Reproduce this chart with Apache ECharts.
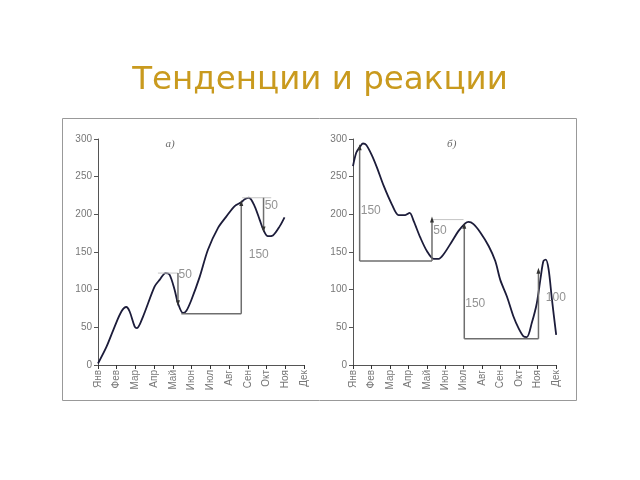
<!DOCTYPE html>
<html><head><meta charset="utf-8">
<script src="https://cdn.jsdelivr.net/npm/echarts@6/dist/echarts.min.js"></script>
<style>html,body{margin:0;padding:0;background:#fff}#c{width:640px;height:480px}</style>
</head><body><div id="c"></div>
<script>
const months = ['Янв','Фев','Мар','Апр','Май','Июн','Июл','Авг','Сен','Окт','Ноя','Дек'];
const yTicks = [0,50,100,150,200,250,300];

// Panel a) curve: [month position, value]
const curveA = [[0,2],[0.45,24],[0.89,51],[1.25,71],[1.51,77],[1.69,71],[1.96,51],[2.08,49],[2.4,64],
 [3.02,104],[3.29,113],[3.61,122],[3.82,120],[4.09,100],[4.27,82],[4.54,69],[4.72,72],[4.98,86],
 [5.43,117],[5.87,153],[6.41,182],[6.85,197],[7.3,211],[7.65,216],[7.83,220],[8.06,222],[8.36,211],
 [8.63,193],[8.84,179],[9.07,171],[9.34,172],[9.7,184],[9.96,196]];
// Panel b) curve
const curveB = [[0,264],[0.18,282],[0.36,289],[0.54,294],[0.72,292],[1.03,278],[1.3,262],[1.66,238],
 [2.11,213],[2.47,199],[2.83,199],[3.07,202],[3.29,191],[3.65,169],[4.01,151],[4.37,141],[4.64,141],
 [4.91,147],[5.36,164],[5.72,178],[6.08,188],[6.26,190],[6.53,187],[6.9,176],[7.35,158],[7.71,138],
 [7.98,113],[8.34,91],[8.7,64],[8.97,49],[9.24,38],[9.42,37],[9.69,56],[9.96,82],[10.18,118],
 [10.32,138],[10.45,140],[10.6,127],[10.78,87],[11.01,40]];

// Annotation segments: [x1,y1,x2,y2,kind,arrowAtEnd]
const segA = [[3.2,122,4.27,122,'light',''],[4.27,122,4.27,82,'main','down'],
 [4.45,68,7.65,68,'main',''],[7.65,68,7.65,215,'main','up'],
 [7.7,222,9.25,222,'light',''],[8.84,222,8.84,180,'main','down']];
const segB = [[0.36,138,0.36,289,'main','up'],[0.36,138,4.28,138,'main',''],
 [4.28,138,4.28,193,'main','up'],[4.28,193,5.99,193,'light',''],
 [6.03,35,6.03,185,'main','up'],[6.03,35,10.05,35,'main',''],
 [10.05,35,10.05,125,'main','up']];
const labelsA = [[4.3,120,'50'],[8.05,146,'150'],[8.9,212,'50']];
const labelsB = [[0.42,205,'150'],[4.35,178,'50'],[6.08,82,'150'],[10.45,90,'100']];
const tagsA = [[3.6,293,'a)']];
const tagsB = [[5.1,293,'б)']];

const chart = echarts.init(document.getElementById('c'), null, {renderer:'canvas'});
const grids = [{left:98, top:139, width:206, bottom:115},{left:353, top:139, width:203, bottom:115}];
function xAx(i){return {type:'value', gridIndex:i, min:0, max:11, interval:1,
  axisLine:{lineStyle:{color:'#555',width:1}}, axisTick:{inside:false,length:4,lineStyle:{color:'#333'}},
  splitLine:{show:false},
  axisLabel:{rotate:90, color:'#777', fontSize:10, fontFamily:'Liberation Sans', margin:5,
    formatter:v=>months[v]||''}};}
function yAx(i){return {type:'value', gridIndex:i, min:0, max:300, interval:50,
  axisLine:{show:true,lineStyle:{color:'#555',width:1}}, axisTick:{show:true,length:4,lineStyle:{color:'#555'}},
  splitLine:{show:false},
  axisLabel:{color:'#777', fontSize:10, fontFamily:'Liberation Sans', margin:6,
    formatter:v=>yTicks.includes(v)?String(v):''}};}

const series = [];
function addPanel(i, curve, segs, labels, tags){
  series.push({type:'line', xAxisIndex:i, yAxisIndex:i, data:curve, smooth:0.3, showSymbol:false,
    lineStyle:{color:'#1c1c3a', width:1.8}, z:5});
  segs.forEach(s=>{
    const end = s[5] ? {value:[s[2],s[3]], symbol:'triangle', symbolSize:[4,6],
        symbolRotate:s[5]==='up'?0:180, itemStyle:{color:'#333'}} : {value:[s[2],s[3]], symbol:'none'};
    series.push({type:'line', xAxisIndex:i, yAxisIndex:i,
      data:[{value:[s[0],s[1]], symbol:'none'}, end],
      showSymbol:true, showAllSymbol:true,
      lineStyle:{color:s[4]==='light'?'#c4c4c4':'#6e6e6e', width:s[4]==='light'?1:1.5}, z:6});
  });
  series.push({type:'scatter', xAxisIndex:i, yAxisIndex:i, symbolSize:0,
    data:labels.map(l=>({value:[l[0],l[1]], name:l[2]})),
    label:{show:true, position:'right', distance:0, formatter:p=>p.name,
      color:'#777', fontSize:12, fontFamily:'Liberation Sans'}, z:7});
  series.push({type:'scatter', xAxisIndex:i, yAxisIndex:i, symbolSize:0,
    data:tags.map(l=>({value:[l[0],l[1]], name:l[2]})),
    label:{show:true, position:'right', distance:0, formatter:p=>p.name,
      color:'#444', fontSize:11, fontStyle:'italic', fontFamily:'Liberation Serif'}, z:7});
}
addPanel(0, curveA, segA, labelsA, tagsA);
addPanel(1, curveB, segB, labelsB, tagsB);

chart.setOption({
  animation:false,
  title:{text:'Тенденции и реакции', left:'center', top:59,
    textStyle:{color:'#C99A1E', fontSize:32.5, fontWeight:'normal', fontFamily:'DejaVu Sans'}},
  graphic:[{type:'rect', shape:{x:62.5,y:118.5,width:514,height:282}, style:{fill:'none', stroke:'#999', lineWidth:1}, z:-1}],
  grid:grids,
  xAxis:[xAx(0),xAx(1)],
  yAxis:[yAx(0),yAx(1)],
  series:series
});
</script></body></html>
